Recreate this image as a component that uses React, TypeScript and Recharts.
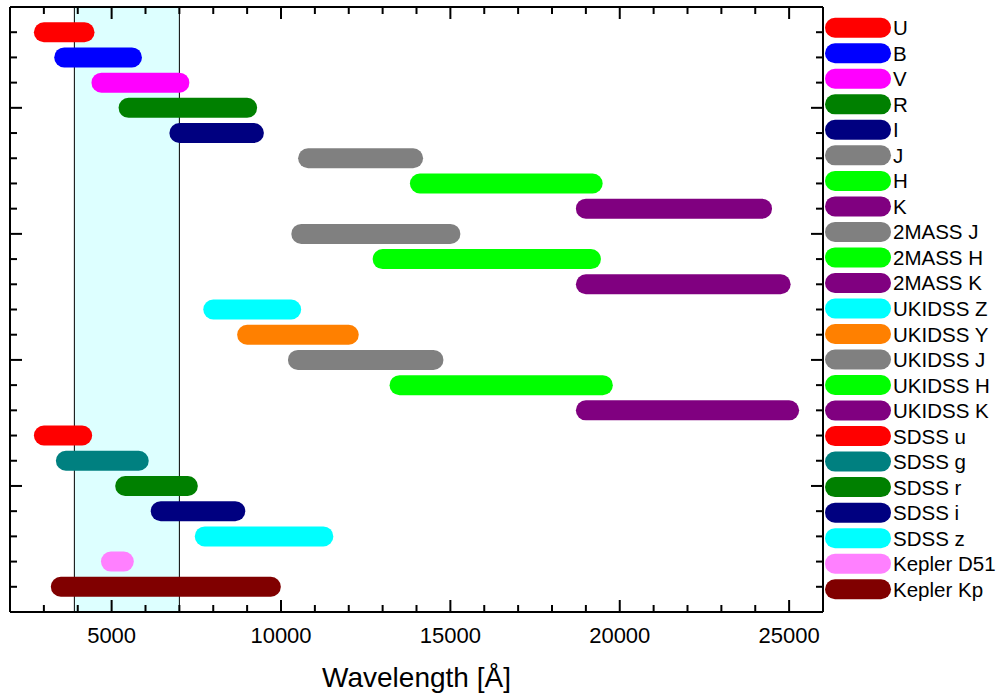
import React from 'react';
import { ComposedChart, Line, XAxis, YAxis, ReferenceArea, ReferenceLine, Legend } from 'recharts';

// filter names, top to bottom
const filterNames = [
    'U', 'B', 'V', 'R', 'I', 'J', 'H', 'K',
    '2MASS J', '2MASS H', '2MASS K',
    'UKIDSS Z', 'UKIDSS Y', 'UKIDSS J', 'UKIDSS H', 'UKIDSS K',
    'SDSS u', 'SDSS g', 'SDSS r', 'SDSS i', 'SDSS z',
    'Kepler D51', 'Kepler Kp',
];

const filterColors = [
    '#FF0000', '#0000FF', '#FF00FF', '#008000', '#000080', '#808080', '#00FF00', '#800080',
    '#808080', '#00FF00', '#800080',
    '#00FFFF', '#FF8000', '#808080', '#00FF00', '#800080',
    '#FF0000', '#008080', '#008000', '#000080', '#00FFFF',
    '#FF80FF', '#800000',
];

// wavelength range of each filter [Å]
const bandStart = [
    3000, 3600, 4700, 5500, 7000, 10800, 14100, 19000,
    10600, 13000, 19000,
    8000, 9000, 10500, 13500, 19000,
    3000, 3650, 5400, 6450, 7750,
    4980, 3500,
];
const bandEnd = [
    4200, 5600, 7000, 9000, 9200, 13900, 19200, 24200,
    15000, 19150, 24750,
    10300, 12000, 14500, 19500, 25000,
    4130, 5800, 7250, 8650, 11250,
    5360, 9700,
];

// shaded optical window
const windowStart = 3900;
const windowEnd = 7000;

const xTicks = [
    2000, 3000, 4000, 5000, 6000, 7000, 8000, 9000, 10000, 11000, 12000, 13000,
    14000, 15000, 16000, 17000, 18000, 19000, 20000, 21000, 22000, 23000, 24000, 25000, 26000,
];
const yTicks = [0, 1, 2, 3, 4, 5, 6, 7, 8, 9, 10, 11, 12, 13, 14, 15, 16, 17, 18, 19, 20, 21, 22, 23];

const bands = filterNames.map((name, i) => ({
    name,
    color: filterColors[i],
    points: [
        { w: bandStart[i], row: filterNames.length - i },
        { w: bandEnd[i], row: filterNames.length - i },
    ],
}));

const BottomTick = ({ x, y, payload }: any) => {
    const major = payload.value % 5000 === 0;
    return (
        <g>
            <line x1={x} x2={x} y1={y} y2={y - (major ? 12 : 7)} stroke="#000" strokeWidth={2} />
            {major && (
                <text x={x} y={y + 31} textAnchor="middle" fontSize={22} fill="#000">
                    {payload.value}
                </text>
            )}
        </g>
    );
};

const TopTick = ({ x, y, payload }: any) => {
    const major = payload.value % 5000 === 0;
    return <line x1={x} x2={x} y1={y} y2={y + (major ? 12 : 7)} stroke="#000" strokeWidth={2} />;
};

const LeftTick = ({ x, y, payload }: any) => {
    const major = payload.value % 5 === 0;
    return <line x1={x} x2={x + (major ? 12 : 7)} y1={y} y2={y} stroke="#000" strokeWidth={2} />;
};

const RightTick = ({ x, y, payload }: any) => {
    const major = payload.value % 5 === 0;
    return <line x1={x - (major ? 12 : 7)} x2={x} y1={y} y2={y} stroke="#000" strokeWidth={2} />;
};

const ITEM_H = 25.52;

// legend follows the row order of the bands (top to bottom)
const FilterLegend = () => (
    <svg width={174} height={bands.length * ITEM_H + 4} style={{ display: 'block' }}>
        {bands.map((b, i) => {
            const cy = ITEM_H / 2 + i * ITEM_H;
            return (
                <g key={`leg-${i}`}>
                    <rect x={0} y={cy - 10} width={66} height={20} rx={10} ry={10} fill={b.color} />
                    <text x={68} y={cy + 7.5} fontSize={20.5} fill="#000">
                        {b.name}
                    </text>
                </g>
            );
        })}
    </svg>
);

const axisStyle = { stroke: '#000', strokeWidth: 2 };

export default function App() {
    return (
        <div style={{ position: 'absolute', left: 0, top: 0, fontFamily: '"Liberation Sans", Arial, sans-serif' }}>
            <ComposedChart width={999} height={697} margin={{ top: 6, right: 0, left: 9, bottom: 0 }}>
                <XAxis
                    xAxisId="bottom"
                    dataKey="w"
                    type="number"
                    domain={[2000, 26000]}
                    ticks={xTicks}
                    interval={0}
                    height={85}
                    axisLine={axisStyle}
                    tickLine={false}
                    tickSize={0}
                    tickMargin={0}
                    tick={<BottomTick />}
                    allowDataOverflow
                    label={{ value: 'Wavelength [Å]', position: 'insideBottom', offset: 10, fontSize: 28, fill: '#000' }}
                />
                <XAxis
                    xAxisId="top"
                    orientation="top"
                    dataKey="w"
                    type="number"
                    domain={[2000, 26000]}
                    ticks={xTicks}
                    interval={0}
                    height={1}
                    axisLine={axisStyle}
                    tickLine={false}
                    tickSize={0}
                    tickMargin={0}
                    tick={<TopTick />}
                    allowDataOverflow
                />
                <YAxis
                    yAxisId="left"
                    type="number"
                    domain={[0, 24]}
                    ticks={yTicks}
                    interval={0}
                    width={1}
                    axisLine={axisStyle}
                    tickLine={false}
                    tickSize={0}
                    tickMargin={0}
                    tick={<LeftTick />}
                    allowDataOverflow
                />
                <YAxis
                    yAxisId="right"
                    orientation="right"
                    type="number"
                    domain={[0, 24]}
                    ticks={yTicks}
                    interval={0}
                    width={176}
                    axisLine={axisStyle}
                    tickLine={false}
                    tickSize={0}
                    tickMargin={0}
                    tick={<RightTick />}
                    allowDataOverflow
                />
                <ReferenceArea
                    xAxisId="bottom"
                    yAxisId="left"
                    x1={windowStart}
                    x2={windowEnd}
                    fill="#DDFFFF"
                    fillOpacity={1}
                    stroke="none"
                />
                <ReferenceLine xAxisId="bottom" yAxisId="left" x={windowStart} stroke="#000" strokeWidth={1} />
                <ReferenceLine xAxisId="bottom" yAxisId="left" x={windowEnd} stroke="#000" strokeWidth={1} />
                {bands.map((b) => (
                    <Line
                        key={b.name}
                        xAxisId="bottom"
                        yAxisId="left"
                        data={b.points}
                        dataKey="row"
                        name={b.name}
                        stroke={b.color}
                        strokeWidth={20}
                        strokeLinecap="round"
                        dot={false}
                        activeDot={false}
                        isAnimationActive={false}
                    />
                ))}
                <Legend
                    layout="horizontal"
                    verticalAlign="middle"
                    align="center"
                    content={<FilterLegend />}
                    wrapperStyle={{ left: 825, top: 14.5, width: 174 }}
                />
            </ComposedChart>
        </div>
    );
}
